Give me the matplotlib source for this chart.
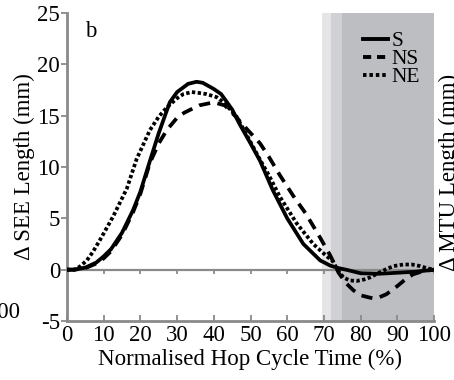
import numpy as np
import matplotlib
matplotlib.use("Agg")
import matplotlib.pyplot as plt
from matplotlib.lines import Line2D

plt.rcParams['font.family'] = ['Liberation Serif', 'DejaVu Serif']

# ── Data (x = % hop cycle, y = ΔSEE length in mm) ────────────────────────────
s_x = [0, 2, 5, 8, 10, 12, 15, 18, 20, 22.6, 25, 28, 30, 33, 35.3, 37, 40, 42, 45,
       47, 50, 52.6, 56, 60, 64.4, 69, 71.7, 74, 76, 80, 85, 90, 95, 100]
s_y = [0, 0, 0.2, 0.7, 1.3, 2.0, 3.6, 5.8, 7.6, 10.6, 13.3, 16.3, 17.3, 18.1, 18.3, 18.2,
       17.6, 17.1, 15.6, 14.2, 12.3, 10.6, 7.8, 5.0, 2.5, 0.9, 0.4, 0.15, 0.0, -0.35,
       -0.4, -0.3, -0.2, 0.0]

ns_x = [0, 2, 5, 8, 10, 12, 15, 18, 20, 22.6, 25, 27.2, 30, 32, 36, 40, 43, 46, 49,
        52.6, 55, 58, 60, 62, 65, 69, 71.7, 74, 76, 78, 80, 83.4, 85, 87, 90, 92, 94.3,
        97, 100]
ns_y = [0, 0, 0.15, 0.6, 1.1, 1.8, 3.4, 5.6, 7.4, 10.4, 12.3, 13.6, 14.8, 15.3, 16.0,
        16.3, 16.0, 14.9, 13.7, 12.3, 11.0, 9.2, 8.1, 7.0, 5.5, 3.1, 1.4, -0.3, -1.3,
        -2.0, -2.5, -2.8, -2.7, -2.4, -1.6, -1.0, -0.45, -0.15, 0.0]

ne_x = [0, 2, 3.5, 5.4, 7, 9, 12.6, 16.3, 19, 22.6, 25, 27.2, 30, 31.7, 34, 36.2, 38,
        40.8, 43, 46.2, 49, 52.6, 55, 58, 62.6, 67.1, 70.8, 72.5, 73.5, 75.3, 77, 78.9,
        81, 82.6, 85, 87.1, 89, 91.6, 94, 96.2, 98, 100]
ne_y = [0, 0, 0.3, 0.9, 1.7, 2.9, 5.2, 7.9, 10.8, 13.6, 14.9, 15.8, 16.7, 17.1, 17.3,
        17.2, 17.1, 16.8, 16.2, 14.9, 13.1, 10.7, 9.2, 7.1, 4.5, 2.5, 1.3, 0.8, 0.1,
        -0.75, -1.05, -1.1, -0.95, -0.75, -0.3, 0.07, 0.35, 0.5, 0.5, 0.35, 0.15, 0.0]

# phase shading bands (x ranges)
bands = [(69.5, 72.0), (72.0, 74.8), (74.8, 100.3)]
band_colors = ['#e5e5e8', '#d1d1d5', '#bdbec2']

x_ticks = np.arange(0, 101, 10)
y_ticks = np.arange(-5, 26, 5)

grey = '#8a8a8a'
fs = 16.5

fig = plt.figure(figsize=(4.54, 3.8), dpi=100)
ax = fig.add_axes([67 / 454, 1 - 321 / 380, (434 - 67) / 454, (321 - 13) / 380])

for (x0, x1), c in zip(bands, band_colors):
    ax.axvspan(x0, x1, ymin=0, ymax=1, color=c, lw=0, zorder=0)

# zero line with small downward ticks
ax.axhline(0, color=grey, lw=1.6, zorder=1)
for xt in x_ticks[1:]:
    ax.plot([xt, xt], [0, -0.45], color=grey, lw=1.3, zorder=1, solid_capstyle='butt')

lw = 2.7
ax.plot(s_x, s_y, color='black', lw=lw, solid_capstyle='round', zorder=4)
ax.plot(ns_x, ns_y, color='black', lw=lw, dashes=(3.0, 2.0), zorder=3)
ax.plot(ne_x, ne_y, color='black', lw=lw, dashes=(0.9, 0.65), zorder=3)

ax.set_xlim(0, 100)
ax.set_ylim(-5, 25)
ax.set_xticks(x_ticks)
ax.set_yticks(y_ticks)
ax.set_yticklabels([str(v) for v in y_ticks])
ax.tick_params(axis='x', direction='in', length=4, width=1.3, color=grey,
               labelsize=fs, pad=3)
ax.tick_params(axis='y', direction='out', length=4, width=1.3, color=grey,
               labelsize=fs, pad=1)
for side in ['top', 'right']:
    ax.spines[side].set_visible(False)
for side in ['left', 'bottom']:
    ax.spines[side].set_color(grey)
    ax.spines[side].set_linewidth(2.0)
ax.set_facecolor('none')

ax.set_xlabel('Normalised Hop Cycle Time (%)', fontsize=fs, labelpad=2)
ax.set_ylabel('Δ SEE Length (mm)', fontsize=fs, labelpad=2)
ax.text(0.048, 0.975, 'b', transform=ax.transAxes, fontsize=fs, va='top', ha='left')

handles = [Line2D([], [], color='black', lw=2.8),
           Line2D([], [], color='black', lw=2.8, dashes=(2.1, 1.5)),
           Line2D([], [], color='black', lw=2.8, dashes=(0.9, 0.75))]
ax.legend(handles, ['S', 'NS', 'NE'], loc='upper left', bbox_to_anchor=(0.765, 0.99),
          frameon=False, fontsize=15.5, handlelength=1.15, handletextpad=0.2,
          labelspacing=-0.1, borderpad=0.2)

# fragments of neighbouring panels
fig.text(20 / 454, 1 - 313 / 380, '100', ha='right', va='center', fontsize=fs)
fig.text(449 / 454, 1 - 172 / 380, 'Δ MTU Length (mm)', rotation=90,
         ha='center', va='center', fontsize=fs)

fig.savefig('out.png', dpi=100)
